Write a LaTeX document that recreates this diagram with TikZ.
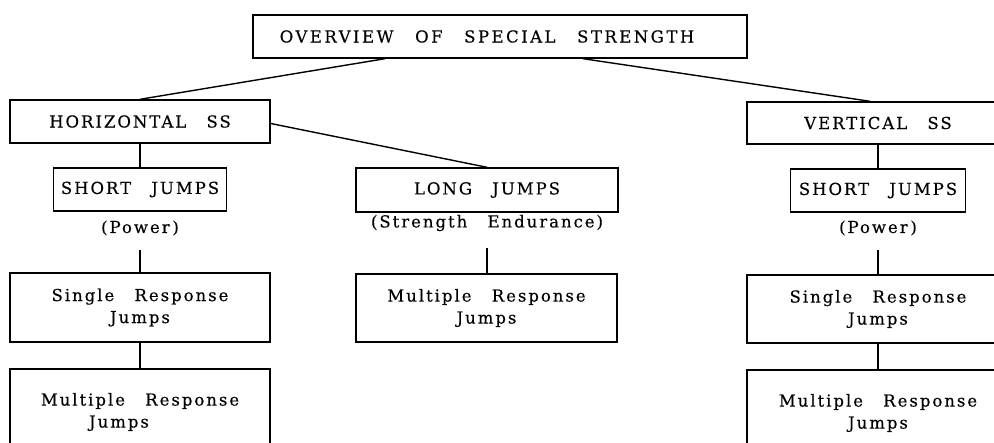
\documentclass[tikz,border=0pt]{standalone}
\usepackage{fontspec}
\setmainfont{DejaVu Serif}[LetterSpace=12, WordSpace=2.8, FakeBold=0.3]
\usetikzlibrary{calc}
\newcommand\lbl{\fontsize{16.5}{22}\selectfont}
\begin{document}
\begin{tikzpicture}[x=1pt, y=-1pt,
  box/.style={draw, line width=1.4pt, minimum height=43pt, inner sep=0pt,
    align=center, font=\lbl},
  note/.style={inner sep=0pt, font=\lbl},
  link/.style={line width=1.4pt}]
\useasboundingbox (0,0) rectangle (994,443);
\clip (0,0) rectangle (994,443);

% title
\node[box, minimum width=494pt] (top) at (500,36.5)
  {\addfontfeatures{LetterSpace=15}OVERVIEW OF SPECIAL STRENGTH\hspace*{26pt}};

% horizontal branch
\node[box, minimum width=260pt] (hs) at (140,121.5) {HORIZONTAL SS};
\node[box, minimum width=173pt] (sj1) at (140,189.5) {SHORT JUMPS};
\node[note] (pw1) at (140,228) {(Power\,)};
\node[box, minimum width=260pt, minimum height=69pt] (sr1) at (140,307.5) {Single Response\\Jumps};
\node[box, minimum width=260pt, minimum height=86pt] (mr1) at (140,412) {Multiple Response\\Jumps\hspace*{42pt}};

% long jumps
\node[box, minimum width=262pt, minimum height=44pt] (lj) at (487,190) {LONG JUMPS};
\node[note] (se) at (487,223) {(Strength Endurance)};
\node[box, minimum width=261pt, minimum height=68pt] (mr2) at (486.5,308) {Multiple Response\\Jumps};

% vertical branch
\node[box, minimum width=262pt, minimum height=42pt] (vs) at (878,123) {VERTICAL SS};
\node[box, minimum width=175pt] (sj2) at (878,190.5) {SHORT JUMPS};
\node[note] (pw2) at (878,228) {(Power\,)};
\node[box, minimum width=262pt, minimum height=68pt] (sr2) at (878,309) {Single Response\\Jumps};
\node[box, minimum width=262pt, minimum height=86pt] (mr3) at (878,413) {Multiple Response\\Jumps};

% connectors
\draw[link] ([xshift=-115pt]top.south) -- (hs.north);
\draw[link] ([xshift=83pt]top.south) -- ([xshift=-8pt]vs.north);
\draw[link] ([yshift=-2pt]hs.east) -- (lj.north);
\draw[link] (hs.south) -- (sj1.north);
\draw[link, shorten <=14pt] (pw1.south) -- (pw1.south |- sr1.north);
\draw[link] (sr1.south) -- (mr1.north);
\draw[link, shorten <=17pt] (se.south) -- (se.south |- mr2.north);
\draw[link] (vs.south) -- (sj2.north);
\draw[link, shorten <=14pt] (pw2.south) -- (pw2.south |- sr2.north);
\draw[link] (sr2.south) -- (mr3.north);
\end{tikzpicture}
\end{document}
